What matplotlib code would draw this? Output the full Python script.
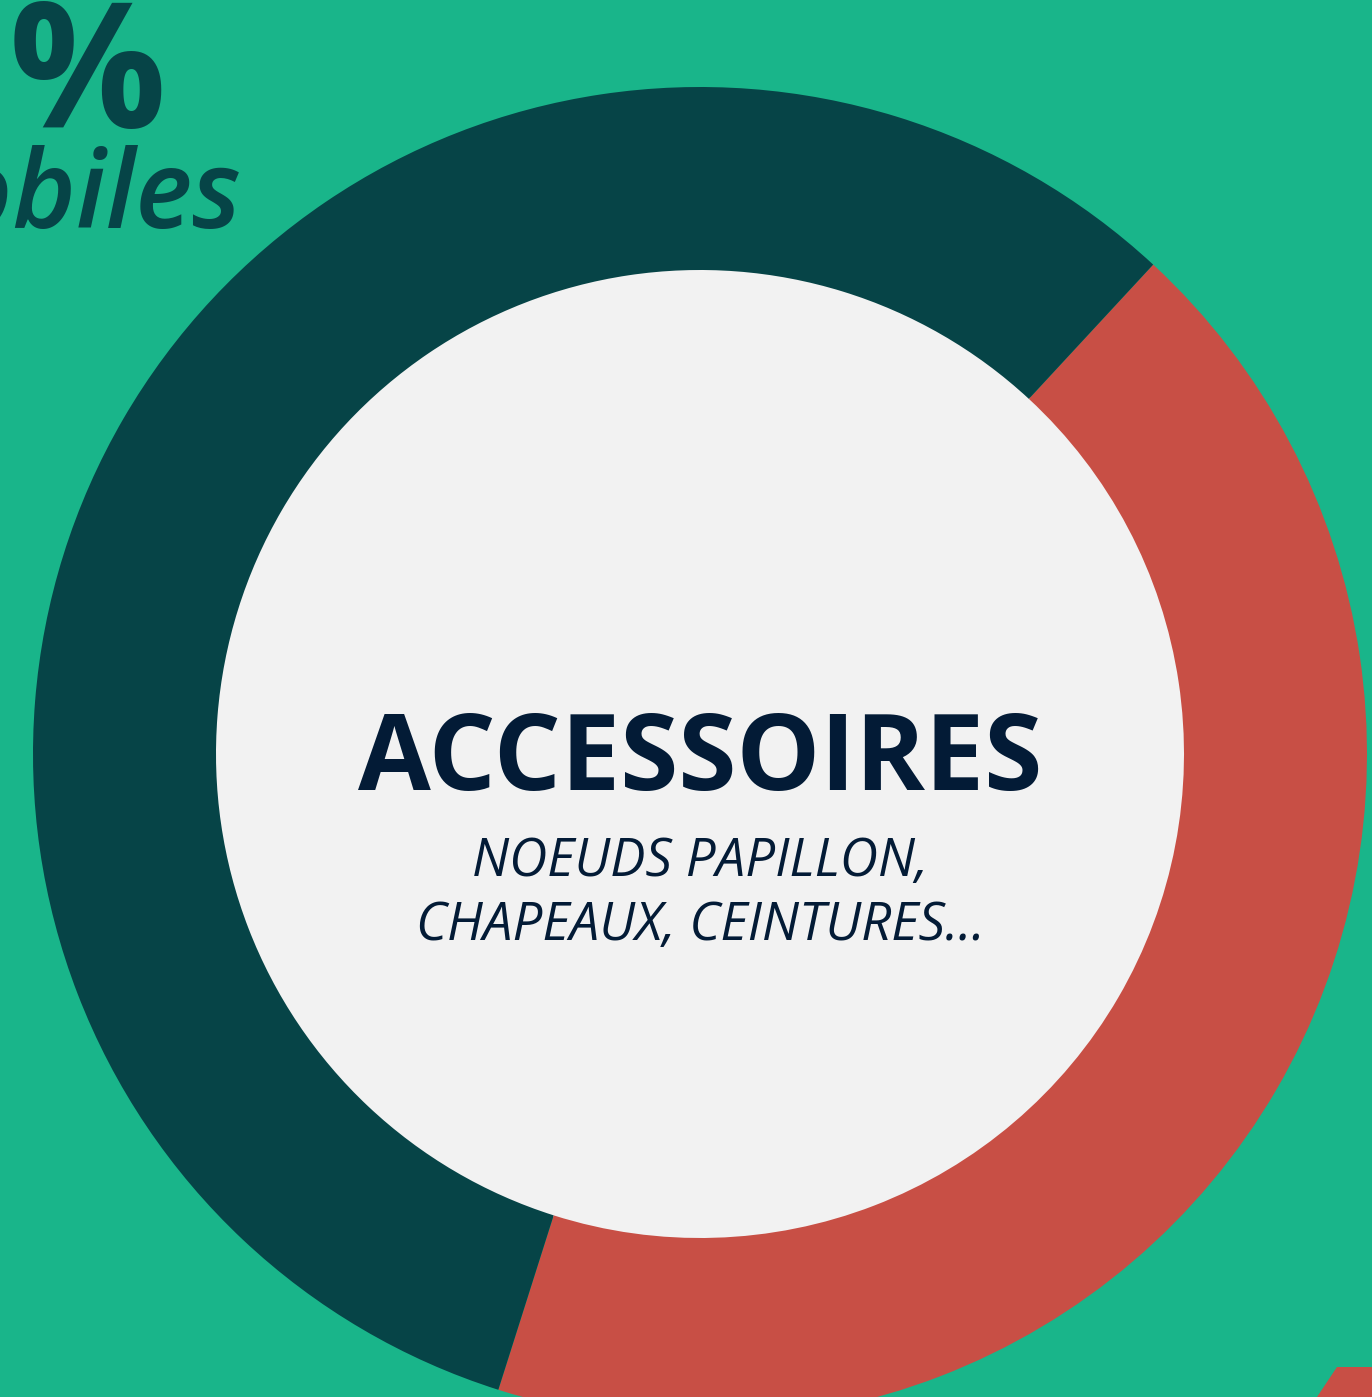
"""Donut chart: share of accessories (noeuds papillon, chapeaux, ceintures...)."""
import matplotlib
matplotlib.use("Agg")
import matplotlib.pyplot as plt
from matplotlib.patches import Circle, Polygon

COLORS = {
    "background": "#19B58A",
    "dark": "#064447",
    "red": "#C84F45",
    "inner": "#F2F2F2",
    "navy": "#031B36",
}

# share of the ring, in percent
segment_labels = ["accessoires", "autres"]
segment_values = [43, 57]
segment_colors = [COLORS["red"], COLORS["dark"]]

title = "ACCESSOIRES"
subtitle_lines = ["NOEUDS PAPILLON,", "CHAPEAUX, CEINTURES..."]

W, H = 1372, 1397
plt.rcParams["font.family"] = ["Open Sans", "DejaVu Sans"]

fig = plt.figure(figsize=(W / 100, H / 100), dpi=100, facecolor=COLORS["background"])
ax = fig.add_axes([0, 0, 1, 1])
ax.set_facecolor(COLORS["background"])

cx, cy = 700, H - 754
outer_r, inner_r = 667, 484

ax.add_patch(Circle((cx, cy), inner_r + 2, facecolor=COLORS["inner"], edgecolor="none", zorder=1))
ax.pie(segment_values, colors=segment_colors, center=(cx, cy), radius=outer_r,
       startangle=47.2, counterclock=False,
       wedgeprops={"width": outer_r - inner_r, "edgecolor": "none", "zorder": 2})

# leftovers of neighbouring infographic blocks, cut by the frame
ax.text(166, H - 127, "%", color=COLORS["dark"], fontsize=126, fontweight="bold",
        ha="right", va="baseline", zorder=3)
ax.text(242, H - 228, "mobiles", color=COLORS["dark"], fontsize=78, fontstyle="italic",
        fontweight="semibold", ha="right", va="baseline", zorder=3)
ax.add_patch(Polygon([(1337, H - 1367), (W, H - 1367), (W, 0), (1317, 0)], closed=True,
                     facecolor=COLORS["red"], edgecolor="none", zorder=3))

ax.text(cx, H - 790, title, color=COLORS["navy"], fontsize=76, fontweight="bold",
        ha="center", va="baseline", zorder=4)
for i, line in enumerate(subtitle_lines):
    ax.text(cx, H - 876 - 64 * i, line, color=COLORS["navy"], fontsize=38,
            fontstyle="italic", ha="center", va="baseline", zorder=4)

ax.set_xlim(0, W)
ax.set_ylim(0, H)
ax.set_aspect("auto")
ax.axis("off")

fig.savefig("out.png", dpi=100, facecolor=COLORS["background"])
